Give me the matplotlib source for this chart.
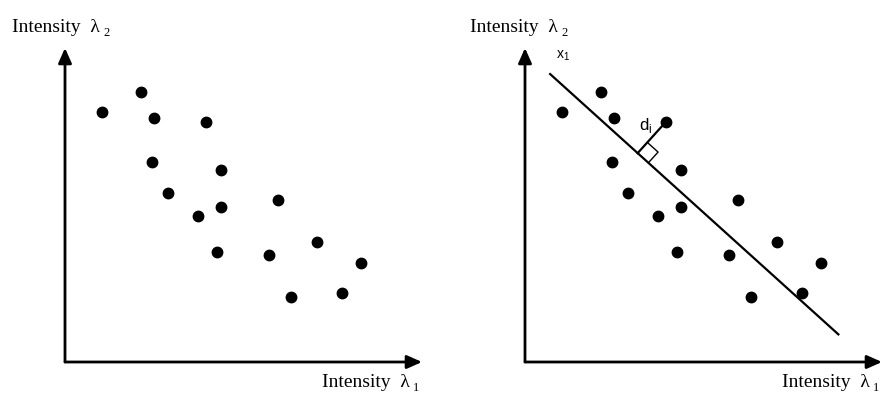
import numpy as np
import matplotlib
matplotlib.use("Agg")
import matplotlib.pyplot as plt

# intensities of the two wavelengths (arbitrary units)
lambda1 = [1.19, 2.41, 2.84, 4.48, 2.78, 4.98, 3.27, 4.98,
           4.23, 6.79, 4.84, 6.50, 8.02, 9.43, 7.21, 8.83]
lambda2 = [7.95, 8.59, 7.77, 7.64, 6.37, 6.11, 5.39, 4.95,
           4.65, 5.15, 3.49, 3.42, 3.81, 3.15, 2.07, 2.20]

# principal axis x1 drawn through the cloud
axis_x = [0.80, 9.98]
axis_y = [9.17, 0.88]
picked = 3  # point whose distance d_i is shown

W, H = 885, 396
fig = plt.figure(figsize=(W / 100, H / 100), dpi=100)


def label(ax, x, y, sub, ha):
    # "Intensity λ" plus a small lowered index
    t = ax.text(x, y, "Intensity  λ", transform=ax.transAxes, fontsize=14,
                family="Liberation Serif", va="baseline", ha=ha)
    ax.annotate(sub, xy=(1, 0), xycoords=t, xytext=(2.5, 0),
                textcoords="offset points", fontsize=9,
                family="Liberation Serif", va="baseline", ha="left",
                annotation_clip=False)


def make_panel(left_px):
    ax = fig.add_axes([left_px / W, (H - 362) / H, 357 / W, 314 / H])
    ax.set_xlim(0, 357 / 31.4)
    ax.set_ylim(0, 10)
    ax.axis("off")
    arrow = dict(arrowstyle="-|>,head_length=0.9,head_width=0.4",
                 color="black", lw=2.0, shrinkA=0, shrinkB=0)
    ax.annotate("", xy=(1, 0), xytext=(0, 0), xycoords="axes fraction",
                arrowprops=arrow, annotation_clip=False)
    ax.annotate("", xy=(0, 1), xytext=(0, 0), xycoords="axes fraction",
                arrowprops=arrow, annotation_clip=False)
    ax.plot(lambda1, lambda2, "o", color="black", ms=7.5, clip_on=False)
    label(ax, -0.148 if left_px < 300 else -0.154, 1.051, "2", "left")
    label(ax, 0.965, -0.080, "1", "right")
    return ax


make_panel(65)
ax = make_panel(525)

ax.plot(axis_x, axis_y, color="black", lw=1.6)

# perpendicular from the chosen point to the line
a = np.array([axis_x[0], axis_y[0]])
u = np.array([axis_x[1] - axis_x[0], axis_y[1] - axis_y[0]])
u = u / np.linalg.norm(u)
p = np.array([lambda1[picked], lambda2[picked]])
foot = a + np.dot(p - a, u) * u
n = (p - foot) / np.linalg.norm(p - foot)
ax.plot([foot[0], p[0]], [foot[1], p[1]], color="black", lw=1.6)

s = 0.46
sq = np.array([foot + s * u, foot + s * u + s * n, foot + s * n])
ax.plot(sq[:, 0], sq[:, 1], color="black", lw=1.0)

ax.text(3.62, 7.40, "d$_\\mathregular{i}$", fontsize=12, family="Liberation Sans")
ax.text(0.98, 9.65, "x$_\\mathregular{1}$", fontsize=10, family="Liberation Sans")

fig.savefig("out.png", dpi=100, facecolor="white")
